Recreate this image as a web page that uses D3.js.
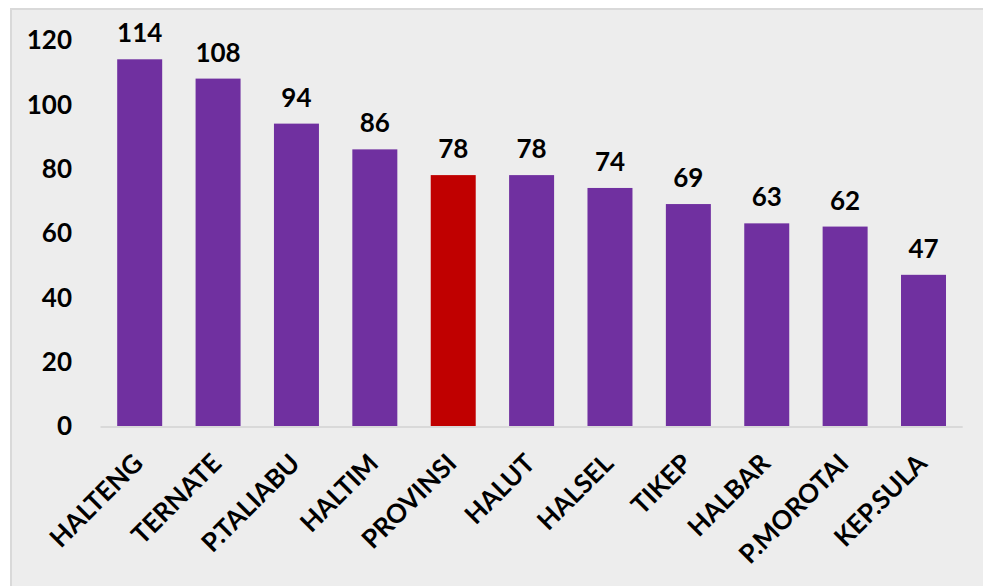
<!DOCTYPE html>
<html>
<head>
<meta charset="utf-8">
<script src="https://cdn.jsdelivr.net/npm/d3@7"></script>
<style>
  html, body { margin: 0; padding: 0; background: #fff; }
  svg { display: block; }
  text { font-family: Lato, "Liberation Sans", sans-serif; font-weight: bold; fill: #000; }
</style>
</head>
<body>
<div id="chart"></div>
<script>
// Data
const regions = ["HALTENG", "TERNATE", "P.TALIABU", "HALTIM", "PROVINSI", "HALUT", "HALSEL", "TIKEP", "HALBAR", "P.MOROTAI", "KEP.SULA"];
const values = [114, 108, 94, 86, 78, 78, 74, 69, 63, 62, 47];
const yTicks = [0, 20, 40, 60, 80, 100, 120];
const highlight = "PROVINSI";

const width = 983, height = 586;
const svg = d3.select("#chart").append("svg").attr("width", width).attr("height", height);

// chart area background + border
svg.append("rect")
  .attr("x", 11).attr("y", 9)
  .attr("width", width + 10).attr("height", height + 10)
  .attr("fill", "#ededed")
  .attr("stroke", "#d9d9d9")
  .attr("stroke-width", 2);

const x = d3.scaleBand()
  .domain(regions)
  .range([100.5, 962.7])
  .paddingInner(0.426)
  .paddingOuter(0.213);

const y = d3.scaleLinear()
  .domain([0, 120])
  .range([426, 40]);

// y axis labels
svg.append("g")
  .selectAll("text")
  .data(yTicks)
  .join("text")
  .attr("x", 72)
  .attr("y", d => y(d))
  .attr("dy", "0.36em")
  .attr("text-anchor", "end")
  .style("font-size", "26px")
  .text(d => d);

// bars
svg.append("g")
  .selectAll("rect")
  .data(values)
  .join("rect")
  .attr("x", (d, i) => x(regions[i]))
  .attr("y", d => y(d))
  .attr("width", x.bandwidth())
  .attr("height", d => y(0) - y(d))
  .attr("fill", (d, i) => regions[i] === highlight ? "#c00000" : "#7030a0");

// value labels
svg.append("g")
  .selectAll("text")
  .data(values)
  .join("text")
  .attr("x", (d, i) => x(regions[i]) + x.bandwidth() / 2)
  .attr("y", d => y(d) - 17)
  .attr("text-anchor", "middle")
  .style("font-size", "26px")
  .text(d => d);

// x axis line
svg.append("line")
  .attr("x1", x.range()[0]).attr("x2", x.range()[1])
  .attr("y1", y(0) + 1).attr("y2", y(0) + 1)
  .attr("stroke", "#d9d9d9")
  .attr("stroke-width", 2);

// category labels, rotated
svg.append("g")
  .selectAll("text")
  .data(regions)
  .join("text")
  .attr("transform", d => `translate(${x(d) + x.bandwidth() / 2 + 5},${y(0) + 39}) rotate(-45)`)
  .attr("text-anchor", "end")
  .style("font-size", "26px")
  .text(d => d);
</script>
</body>
</html>
